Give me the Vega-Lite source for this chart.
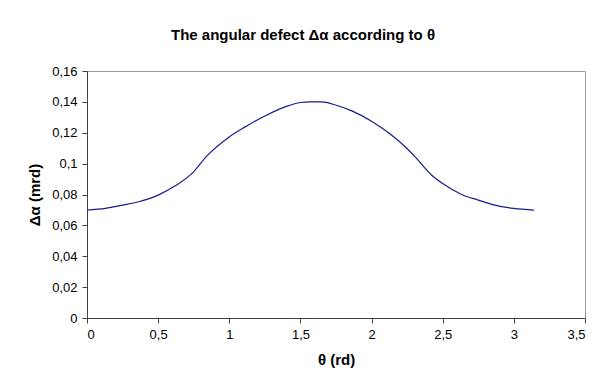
{
  "$schema": "https://vega.github.io/schema/vega-lite/v6.json",
  "autosize": "none",
  "width": 498,
  "height": 247,
  "padding": {"left": 87, "top": 71, "right": 17, "bottom": 66},
  "background": "white",
  "title": {
    "text": "The angular defect Δα according to θ",
    "anchor": "middle",
    "frame": "group",
    "dx": -33,
    "offset": 22,
    "font": "Liberation Sans",
    "fontSize": 15,
    "fontWeight": "bold",
    "color": "black"
  },
  "config": {
    "locale": {
      "number": {"decimal": ",", "thousands": " ", "grouping": [3], "currency": ["", " €"]}
    },
    "view": {"stroke": "#9a9a9a", "strokeWidth": 1},
    "axis": {
      "grid": false,
      "domainColor": "#404040",
      "tickColor": "#404040",
      "tickSize": 5,
      "labelFont": "Liberation Sans",
      "labelFontSize": 13,
      "labelColor": "black",
      "titleFont": "Liberation Sans",
      "titleFontSize": 15,
      "titleFontWeight": "bold",
      "titleColor": "black"
    }
  },
  "data": {
    "values": [
      {"theta": 0.0, "defect": 0.0699},
      {"theta": 0.129, "defect": 0.0710},
      {"theta": 0.25, "defect": 0.0731},
      {"theta": 0.363, "defect": 0.0753},
      {"theta": 0.5, "defect": 0.0796},
      {"theta": 0.62, "defect": 0.0856},
      {"theta": 0.749, "defect": 0.0947},
      {"theta": 0.843, "defect": 0.1050},
      {"theta": 1.0, "defect": 0.1173},
      {"theta": 1.112, "defect": 0.1238},
      {"theta": 1.25, "defect": 0.1309},
      {"theta": 1.393, "defect": 0.1368},
      {"theta": 1.5, "defect": 0.1396},
      {"theta": 1.571, "defect": 0.1400},
      {"theta": 1.65, "defect": 0.1400},
      {"theta": 1.751, "defect": 0.1378},
      {"theta": 1.861, "defect": 0.1342},
      {"theta": 2.0, "defect": 0.1275},
      {"theta": 2.142, "defect": 0.1184},
      {"theta": 2.249, "defect": 0.1098},
      {"theta": 2.306, "defect": 0.1044},
      {"theta": 2.423, "defect": 0.0925},
      {"theta": 2.5, "defect": 0.0871},
      {"theta": 2.633, "defect": 0.0800},
      {"theta": 2.75, "defect": 0.0764},
      {"theta": 2.867, "defect": 0.0731},
      {"theta": 3.0, "defect": 0.0710},
      {"theta": 3.141, "defect": 0.0699}
    ]
  },
  "mark": {"type": "line", "color": "#1a1a8c", "strokeWidth": 1.2, "interpolate": "monotone"},
  "encoding": {
    "x": {
      "field": "theta",
      "type": "quantitative",
      "title": "θ (rd)",
      "scale": {"domain": [0, 3.5], "nice": false, "zero": true},
      "axis": {"values": [0, 0.5, 1, 1.5, 2, 2.5, 3, 3.5], "format": "~g", "labelPadding": 5, "titlePadding": 11}
    },
    "y": {
      "field": "defect",
      "type": "quantitative",
      "title": "Δα (mrd)",
      "scale": {"domain": [0, 0.16], "nice": false},
      "axis": {"values": [0, 0.02, 0.04, 0.06, 0.08, 0.1, 0.12, 0.14, 0.16], "format": "~g", "labelPadding": 5, "titlePadding": 9}
    }
  }
}
